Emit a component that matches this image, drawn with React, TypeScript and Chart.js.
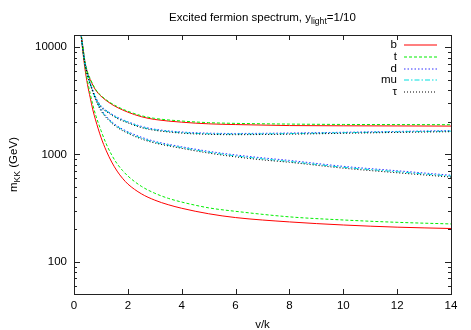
import React, { useEffect, useRef } from "react";
import { Chart, registerables } from "chart.js";
Chart.register(...registerables);

// ---- data ----
const seriesNames = ["b", "t", "d", "mu", "τ"];
const seriesColors = ["#ff0000", "#00ee00", "#3030ff", "#00e0e0", "#000000"];
const seriesDash: number[][] = [[], [3, 2], [1.5, 2], [5, 2, 1.5, 2], [1, 2]];

const xTicks = [0, 2, 4, 6, 8, 10, 12, 14];
const yTicks = [100, 1000, 10000];
const yMinorMult = [2, 3, 4, 5, 6, 7, 8, 9];

const xsHeavyUpper = [0.25, 0.3, 0.4, 0.5, 0.6, 0.8, 1, 1.3, 1.6, 2, 2.5, 3, 4, 5, 6, 8, 10, 12, 14];
const bUpper = [14000, 11500, 7500, 5800, 5000, 4000, 3500, 3050, 2750, 2480, 2250, 2120, 2000, 1930, 1900, 1860, 1850, 1845, 1840];
const tUpper = [14000, 11500, 7600, 5900, 5100, 4050, 3550, 3100, 2800, 2530, 2300, 2170, 2050, 1980, 1950, 1920, 1905, 1900, 1895];

const xsHeavyLower = [0.25, 0.3, 0.4, 0.5, 0.6, 0.7, 0.8, 1, 1.2, 1.4, 1.6, 1.8, 2, 2.5, 3, 3.5, 4, 5, 6, 8, 10, 12, 14];
const bLower = [14000, 10500, 6500, 4500, 3400, 2600, 2100, 1450, 1080, 850, 700, 600, 530, 430, 375, 340, 315, 280, 258, 235, 220, 210, 204];
const tLower = [14000, 10800, 6900, 4900, 3700, 2900, 2350, 1680, 1250, 990, 820, 710, 630, 505, 435, 390, 360, 318, 295, 262, 245, 233, 225];

const xsLight = [0.25, 0.3, 0.4, 0.5, 0.6, 0.8, 1, 1.3, 1.6, 2, 2.5, 3, 4, 5, 6, 7, 8, 10, 12, 14];
const dUpper = [14000, 11000, 7300, 5650, 4650, 3450, 2850, 2480, 2230, 2020, 1830, 1720, 1620, 1580, 1570, 1575, 1585, 1610, 1640, 1670];
const muUpper = [14000, 11000, 7200, 5600, 4600, 3400, 2800, 2450, 2200, 2000, 1800, 1700, 1600, 1560, 1550, 1555, 1565, 1595, 1625, 1650];
const tauUpper = [14000, 10900, 7100, 5550, 4550, 3350, 2760, 2420, 2170, 1970, 1780, 1680, 1580, 1540, 1530, 1535, 1545, 1575, 1605, 1630];
const dLower = [14000, 11000, 7300, 5650, 4650, 3350, 2650, 2140, 1850, 1630, 1450, 1325, 1180, 1070, 990, 930, 880, 775, 705, 640];
const muLower = [14000, 11000, 7200, 5600, 4600, 3300, 2600, 2100, 1820, 1600, 1420, 1300, 1160, 1050, 970, 910, 860, 760, 690, 628];
const tauLower = [14000, 10900, 7100, 5550, 4550, 3250, 2560, 2070, 1790, 1575, 1395, 1280, 1140, 1030, 950, 890, 845, 745, 675, 615];

const FONT = '"Liberation Sans", Arial, Helvetica, sans-serif';
const FS = 11.5;

function pts(xs: number[], ys: number[]) {
  return xs.map((x, i) => ({ x, y: ys[i] }));
}

const branches: { s: number; data: { x: number; y: number }[] }[] = [
  { s: 0, data: pts(xsHeavyUpper, bUpper) },
  { s: 0, data: pts(xsHeavyLower, bLower) },
  { s: 1, data: pts(xsHeavyUpper, tUpper) },
  { s: 1, data: pts(xsHeavyLower, tLower) },
  { s: 2, data: pts(xsLight, dUpper) },
  { s: 2, data: pts(xsLight, dLower) },
  { s: 3, data: pts(xsLight, muUpper) },
  { s: 3, data: pts(xsLight, muLower) },
  { s: 4, data: pts(xsLight, tauUpper) },
  { s: 4, data: pts(xsLight, tauLower) },
];

function drawSub(ctx: CanvasRenderingContext2D, parts: [string, boolean][], x: number, y: number, align: "center" | "left") {
  const big = `${FS}px ${FONT}`;
  const small = `${FS * 0.75}px ${FONT}`;
  let total = 0;
  for (const [t, sub] of parts) {
    ctx.font = sub ? small : big;
    total += ctx.measureText(t).width;
  }
  let cx = align === "center" ? x - total / 2 : x;
  ctx.textAlign = "left";
  ctx.textBaseline = "alphabetic";
  for (const [t, sub] of parts) {
    ctx.font = sub ? small : big;
    ctx.fillText(t, cx, sub ? y + 3 : y);
    cx += ctx.measureText(t).width;
  }
}

const decorPlugin = {
  id: "decor",
  afterDraw(chart: any) {
    const ctx: CanvasRenderingContext2D = chart.ctx;
    const a = chart.chartArea;
    const xs = chart.scales.x;
    const ys = chart.scales.y;
    ctx.save();
    ctx.strokeStyle = "#222";
    ctx.lineWidth = 1;
    ctx.setLineDash([]);
    ctx.strokeRect(Math.round(a.left) + 0.5, Math.round(a.top) + 0.5, Math.round(a.right - a.left), Math.round(a.bottom - a.top));
    ctx.beginPath();
    for (const v of xTicks) {
      const px = Math.round(xs.getPixelForValue(v)) + 0.5;
      ctx.moveTo(px, a.bottom);
      ctx.lineTo(px, a.bottom - 5);
      ctx.moveTo(px, a.top);
      ctx.lineTo(px, a.top + 5);
    }
    for (const v of yTicks) {
      const py = Math.round(ys.getPixelForValue(v)) + 0.5;
      ctx.moveTo(a.left, py);
      ctx.lineTo(a.left + 6, py);
      ctx.moveTo(a.right, py);
      ctx.lineTo(a.right - 6, py);
    }
    for (const d of [10, 100, 1000, 10000]) {
      for (const m of yMinorMult) {
        const v = d * m;
        if (v < ys.min || v > ys.max) continue;
        const py = Math.round(ys.getPixelForValue(v)) + 0.5;
        ctx.moveTo(a.left, py);
        ctx.lineTo(a.left + 3, py);
        ctx.moveTo(a.right, py);
        ctx.lineTo(a.right - 3, py);
      }
    }
    ctx.stroke();
    ctx.restore();

    // legend
    seriesNames.forEach((name, i) => {
      const y = a.top + 10 + i * 11.75;
      ctx.save();
      ctx.font = `${FS}px ${FONT}`;
      ctx.textAlign = "right";
      ctx.textBaseline = "middle";
      ctx.fillStyle = "#000";
      ctx.fillText(name, a.right - 54, y);
      ctx.restore();
      ctx.save();
      ctx.lineWidth = 1.2;
      ctx.strokeStyle = seriesColors[i];
      ctx.setLineDash(seriesDash[i]);
      ctx.beginPath();
      ctx.moveTo(a.right - 47, Math.round(y));
      ctx.lineTo(a.right - 14, Math.round(y));
      ctx.stroke();
      ctx.restore();
    });

    // title
    ctx.save();
    ctx.fillStyle = "#000";
    const cx = (a.left + a.right) / 2;
    drawSub(ctx, [["Excited fermion spectrum, y", false], ["light", true], ["=1/10", false]], cx, 21, "center");
    // x title
    ctx.font = `${FS}px ${FONT}`;
    ctx.textAlign = "center";
    ctx.textBaseline = "alphabetic";
    ctx.fillText("v/k", cx, 328);
    // y title
    ctx.translate(17, (a.top + a.bottom) / 2);
    ctx.rotate(-Math.PI / 2);
    drawSub(ctx, [["m", false], ["KK", true], [" (GeV)", false]], 0, 0, "center");
    ctx.restore();
  },
};

export default function App() {
  const ref = useRef<HTMLCanvasElement>(null);
  useEffect(() => {
    if (!ref.current) return;
    const chart = new Chart(ref.current, {
      type: "line",
      data: {
        datasets: branches.map((b) => ({
          label: seriesNames[b.s],
          data: b.data,
          borderColor: seriesColors[b.s],
          borderDash: seriesDash[b.s],
          borderWidth: 1,
          pointRadius: 0,
          fill: false,
          cubicInterpolationMode: "monotone" as const,
          order: 10 - b.s,
        })),
      },
      options: {
        responsive: false,
        animation: false,
        devicePixelRatio: 1,
        layout: { padding: { top: 35, right: 20, left: 0, bottom: 0 } },
        plugins: { legend: { display: false }, title: { display: false }, tooltip: { enabled: false } },
        scales: {
          x: {
            type: "linear",
            min: 0,
            max: 14,
            afterBuildTicks: (s: any) => {
              s.ticks = xTicks.map((v) => ({ value: v }));
            },
            afterFit: (s: any) => {
              s.height = 36;
            },
            ticks: { color: "#000", font: { family: FONT, size: FS }, padding: 5, maxRotation: 0, autoSkip: false },
            grid: { display: false, drawTicks: false, tickLength: 0 },
            border: { display: false },
          },
          y: {
            type: "logarithmic",
            min: 50,
            max: 13000,
            afterBuildTicks: (s: any) => {
              s.ticks = yTicks.map((v) => ({ value: v }));
            },
            afterFit: (s: any) => {
              s.width = 74;
            },
            ticks: { color: "#000", font: { family: FONT, size: FS }, padding: 7, callback: (v: any) => String(v), autoSkip: false },
            grid: { display: false, drawTicks: false, tickLength: 0 },
            border: { display: false },
          },
        },
      },
      plugins: [decorPlugin],
    } as any);
    return () => chart.destroy();
  }, []);
  return (
    <div style={{ position: "absolute", left: 0, top: 0, width: 471, height: 330, background: "#fff" }}>
      <canvas ref={ref} width={471} height={330} style={{ display: "block", width: 471, height: 330 }} />
    </div>
  );
}
